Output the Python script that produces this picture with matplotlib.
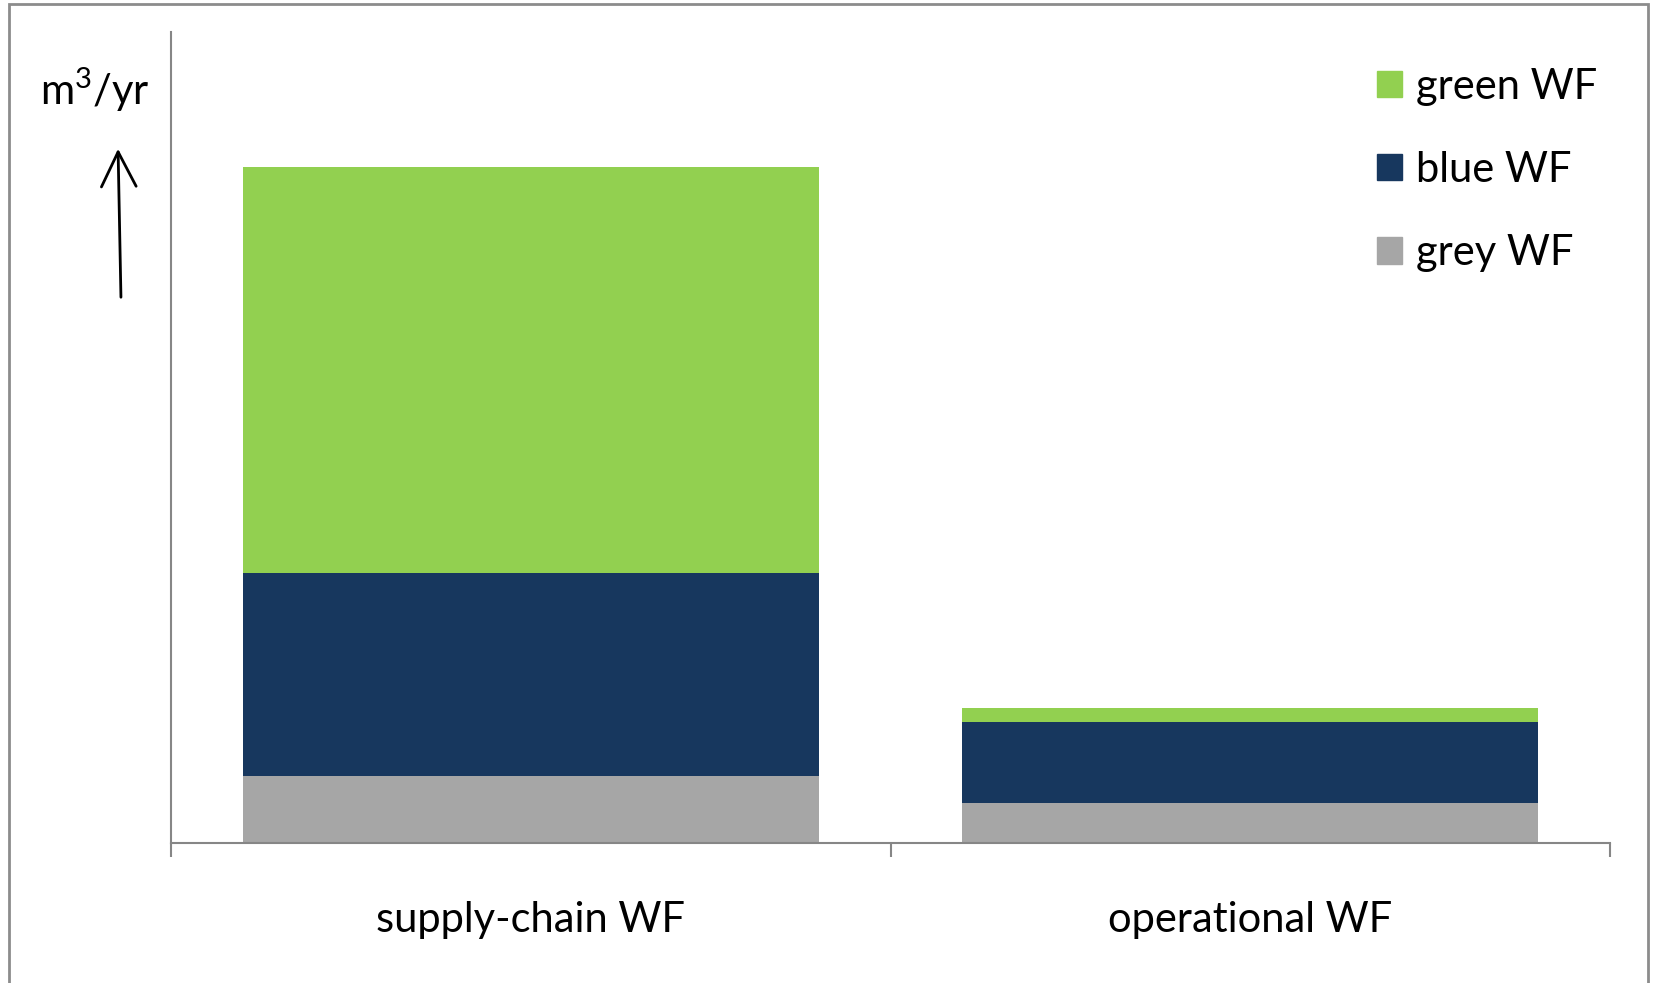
import matplotlib
matplotlib.use("Agg")
import matplotlib.pyplot as plt
from matplotlib.patches import Rectangle, Patch

plt.rcParams["font.family"] = ["Lato", "DejaVu Sans"]

categories = ["supply-chain WF", "operational WF"]
grey_wf = [67, 40]
blue_wf = [203, 81]
green_wf = [406, 14]

c_green = "#92D050"
c_blue = "#17375E"
c_grey = "#A6A6A6"
c_axis = "#868686"

W, H = 1653, 983
fig = plt.figure(figsize=(W / 100, H / 100), dpi=100)
ax = fig.add_axes([171 / W, 1 - 843 / H, (1610 - 171) / W, (843 - 32) / H])

x = list(range(len(categories)))
bottom_blue = grey_wf
bottom_green = [g + b for g, b in zip(grey_wf, blue_wf)]
ax.bar(x, grey_wf, width=0.8, color=c_grey, label="grey WF")
ax.bar(x, blue_wf, width=0.8, bottom=bottom_blue, color=c_blue, label="blue WF")
ax.bar(x, green_wf, width=0.8, bottom=bottom_green, color=c_green, label="green WF")

ax.set_xlim(-0.5, 1.5)
ax.set_ylim(0, 811)
ax.set_yticks([])
ax.set_xticks([-0.5, 0.5, 1.5])
ax.set_xticklabels([])
ax.tick_params(axis="x", direction="out", length=10, width=1.5, color=c_axis)
for i, name in enumerate(categories):
    ax.text(i, -0.095, name, transform=ax.get_xaxis_transform(), ha="center",
            va="center", fontsize=30)

for side in ["top", "right"]:
    ax.spines[side].set_visible(False)
for side in ["left", "bottom"]:
    ax.spines[side].set_color(c_axis)
    ax.spines[side].set_linewidth(1.5)

handles = [Patch(color=c_green), Patch(color=c_blue), Patch(color=c_grey)]
fig.legend(handles, ["green WF", "blue WF", "grey WF"], loc="upper left",
           bbox_to_anchor=(1339 / W, 1 - 30 / H), frameon=False, fontsize=30,
           handlelength=0.6, handleheight=0.6, handletextpad=0.35,
           labelspacing=1.09)

# unit label and arrow
fig.text(40 / W, 1 - 90 / H, r"m$^\mathregular{3}$/yr", fontsize=30,
         va="center", ha="left")
ax.annotate("", xy=(118 / W, 1 - 146 / H), xytext=(121 / W, 1 - 300 / H),
            xycoords="figure fraction", textcoords="figure fraction",
            arrowprops=dict(arrowstyle="->,head_length=1.0,head_width=0.5",
                            color="black", lw=2, mutation_scale=25))

# outer frame
fig.patches.append(Rectangle((9 / W, -0.05), (1648 - 9) / W, 1.05 - 4 / H,
                             transform=fig.transFigure, fill=False,
                             edgecolor="#8c8c8c", linewidth=2))

fig.savefig("out.png", dpi=100)
